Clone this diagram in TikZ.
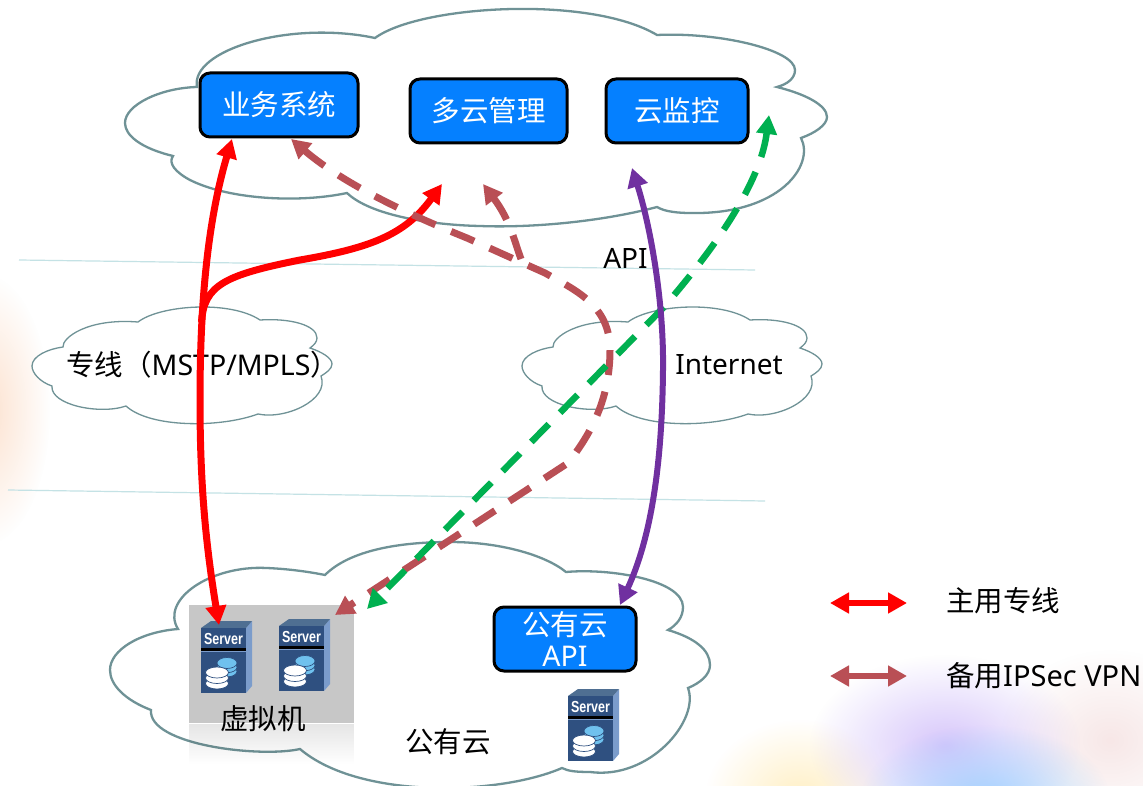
\documentclass[tikz,border=0pt]{standalone}
\usepackage{fontspec}
\setmainfont{Noto Sans}
\newfontfamily\cjk{Noto Sans CJK SC}
\newfontfamily\srvfont{Liberation Sans}[FakeStretch=0.78]
\usetikzlibrary{arrows.meta,fadings}
\definecolor{cloudline}{HTML}{6F9296}
\definecolor{boxblue}{HTML}{0580FF}
\definecolor{brownred}{HTML}{B94F55}
\definecolor{vpngreen}{HTML}{00B050}
\definecolor{apipurple}{HTML}{7030A0}
\definecolor{rule}{HTML}{C4E2E5}
\definecolor{srvfront}{HTML}{2F5080}
\definecolor{srvtop}{HTML}{4F6F92}
\definecolor{srvside}{HTML}{7B9CCB}
\definecolor{disc}{HTML}{6FC1EE}
\definecolor{blobpeach}{RGB}{250,200,165}
\definecolor{blobyellow}{RGB}{255,235,180}
\definecolor{blobpink}{RGB}{245,225,225}
\definecolor{blobviolet}{RGB}{205,185,250}
\definecolor{blobblue}{RGB}{150,205,255}
\tikzfading[name=blobfade, inner color=transparent!0, outer color=transparent!100]
\tikzset{
  cloudshape/.style={draw=cloudline, fill=white, line width=#1, line join=miter},
  cloudshape/.default=2.3pt,
  bluebox/.style={draw=black, fill=boxblue, line width=3pt, rounded corners=10pt, text=white, inner sep=0pt, align=center, font=\fontsize{28.5}{30}\selectfont\cjk},
  lbl/.style={text=black, inner sep=0pt, font=\fontsize{28.5}{32}\selectfont\cjk},
  latlbl/.style={text=black, inner sep=0pt, font=\fontsize{28}{32}\selectfont},
  rulerline/.style={draw=rule, line width=1.2pt},
  tips/.style={{Triangle[length=19pt,width=20pt]}-{Triangle[length=19pt,width=20pt]}},
  tipend/.style={-{Triangle[length=19pt,width=20pt]}},
  redline/.style={draw=red, line width=7pt},
  brownline/.style={draw=brownred, line width=7pt, dash pattern=on 25pt off 17pt},
  greenline/.style={draw=vpngreen, line width=6.5pt, dash pattern=on 25pt off 16pt},
  purpleline/.style={draw=apipurple, line width=6pt},
  blob/.style={path fading=blobfade, fill=#1},
  srvlabel/.style={text=white, inner sep=0pt, font=\fontsize{16}{16}\selectfont\bfseries\srvfont},
  discw/.style={fill=white, draw=srvfront, line width=0.7pt},
  discb/.style={fill=disc, draw=srvfront, line width=0.7pt},
}
\newcommand{\midcloud}{
  (553,347) .. controls (552,338) and (577,318) .. (628,322)
  .. controls (650,305) and (720,300) .. (750,320)
  .. controls (780,318) and (807,325) .. (807,338) .. controls (807,342) and (804,345) .. (800,348)
  .. controls (812,352) and (822,358) .. (822,364) .. controls (822,369) and (816,373) .. (811,376)
  .. controls (820,400) and (775,420) .. (748,414)
  .. controls (710,428) and (640,428) .. (616,406)
  .. controls (590,415) and (540,405) .. (542,386)
  .. controls (530,382) and (522,373) .. (522,366) .. controls (522,356) and (538,349) .. (553,347) -- cycle
}
\newcommand{\srvstack}[5]{% x y radius step style
  \foreach \k in {2,1,0}{
    \draw[#5] (#1,#2+\k*#4) ellipse [x radius=#3, y radius=5.5];
  }
}
\newcommand{\serverbox}[3]{% name x y (front face top-left)
  \begin{scope}[shift={(#2,#3)}]
    \fill[srvside] (45,0) -- (51,-7) -- (51,58) -- (45,65) -- cycle;
    \fill[srvtop] (0,0) -- (10,-7) -- (51,-7) -- (45,0) -- cycle;
    \fill[srvfront] (0,0) rectangle (45,65);
    \fill[black] (0,20) rectangle (45,23);
    \fill[srvside] (0,23) rectangle (45,24);
    \node[srvlabel] (#1) at (22.5,10.5) {Server};
    \srvstack{26}{35}{10}{4.2}{discb}
    \srvstack{16}{44.5}{11.5}{5.5}{discw}
  \end{scope}
}
\begin{document}
\begin{tikzpicture}[x=1pt,y=-1pt]
\useasboundingbox (0,0) rectangle (1143,786);
\clip (0,0) rectangle (1143,786);
% background blobs
\fill[white] (0,0) rectangle (1143,786);
\fill[blob=blobpeach, opacity=.55] (-15,410) ellipse [x radius=65, y radius=135];
\fill[blob=blobyellow, opacity=.8] (800,800) ellipse [x radius=95, y radius=80];
\fill[blob=blobpink, opacity=.8] (1110,740) ellipse [x radius=110, y radius=90];
\fill[blob=blobviolet, opacity=.8] (945,745) ellipse [x radius=135, y radius=90];
\fill[blob=blobblue, opacity=.85] (985,800) ellipse [x radius=125, y radius=75];
% separators
\coordinate (r1a) at (19,260); \coordinate (r1b) at (755,270);
\coordinate (r2a) at (8,490); \coordinate (r2b) at (765,501);
\draw[rulerline] (r1a) -- (r1b);
\draw[rulerline] (r2a) -- (r2b);
% top cloud
\draw[cloudshape] (197,87) .. controls (190,50) and (290,20) .. (375,38)
  .. controls (420,5) and (590,-5) .. (657,35)
  .. controls (720,32) and (795,50) .. (795,70) .. controls (795,78) and (788,84) .. (777,87)
  .. controls (805,94) and (827,105) .. (827,117) .. controls (827,125) and (815,133) .. (801,138)
  .. controls (815,165) and (780,215) .. (690,213) .. controls (680,213) and (665,212) .. (657,207)
  .. controls (600,222) and (530,228) .. (480,226) .. controls (430,225) and (370,215) .. (347,193)
  .. controls (300,203) and (230,200) .. (190,180) .. controls (175,172) and (168,163) .. (173,156)
  .. controls (140,148) and (125,135) .. (125,123) .. controls (125,105) and (160,88) .. (197,87) -- cycle;
% middle clouds
\draw[cloudshape=1.3pt] \midcloud;
\begin{scope}[shift={(-490,0)}]
\draw[cloudshape=1.3pt] \midcloud;
\end{scope}
% bottom cloud
\draw[cloudshape] (178,629) .. controls (160,600) and (210,565) .. (267,568) .. controls (290,569) and (310,572) .. (325,575)
  .. controls (350,550) and (400,542) .. (450,542) .. controls (500,542) and (545,555) .. (566,572)
  .. controls (610,568) and (683,580) .. (683,607) .. controls (683,617) and (677,625) .. (668,630)
  .. controls (695,638) and (710,650) .. (710,665) .. controls (710,675) and (700,683) .. (688,688)
  .. controls (700,720) and (650,780) .. (590,772) .. controls (575,772) and (568,771) .. (562,768)
  .. controls (500,795) and (360,800) .. (300,749)
  .. controls (260,758) and (148,745) .. (151,710)
  .. controls (125,700) and (110,685) .. (110,670) .. controls (110,650) and (140,632) .. (178,629) -- cycle;
% virtual machine panel
\fill[black!22] (189,605) rectangle (354,723);
\fill[black, opacity=.10, path fading=south] (189,724) rectangle (354,764);
% servers
\serverbox{srva}{201}{628}
\serverbox{srvb}{279}{626}
\serverbox{srvc}{568}{696}
% boxes
\node[bluebox, minimum width=158pt, minimum height=64pt] (biz) at (279,105) {\raisebox{-1pt}{业务系统}};
\node[bluebox, minimum width=157pt, minimum height=64pt] (mgr) at (488.5,111) {多云管理};
\node[bluebox, minimum width=142pt, minimum height=64pt] (mon) at (677,111) {云监控};
\node[bluebox, minimum width=142pt, minimum height=64pt] (pub) at (565,639) {\raisebox{2pt}{公有云}\\[-1pt]{\fontspec{Noto Sans}API}};
% labels
\node[lbl, anchor=west] (lined) at (66,365) {专线（{\fontspec{Noto Sans}MSTP/MPLS}）};
\node[latlbl] (inet) at (729,365) {Internet};
\node[latlbl] (api) at (625.5,258) {API};
\node[lbl] (vm) at (263,719) {虚拟机};
\node[lbl] (pubc) at (448,742) {公有云};
\node[lbl, anchor=west] (lega) at (946,601) {主用专线};
\node[lbl, anchor=west] (legb) at (946,676) {备用{\fontspec{Noto Sans}\fontsize{29}{32}\selectfont IPSec VPN}};
% connector ends
\coordinate (bizr) at (232,139);
\coordinate (bizb) at (291,139);
\coordinate (mgrr) at (442,184);
\coordinate (mgrb) at (483,184);
\coordinate (monp) at (632,168);
\coordinate (mong) at (769,115);
\coordinate (srvr) at (219,625);
\coordinate (srvbr) at (335,615);
\coordinate (srvg) at (367,609);
\coordinate (pubp) at (620,605);
\coordinate (trunk) at (201.5,322);
\coordinate (bjoin) at (545,273);
\coordinate (bbranch) at (521,259);
% red
\draw[redline, tips] (bizr) .. controls (205,230) and (200,320) .. (200,400) .. controls (200,480) and (205,540) .. (srvr);
\draw[redline, tipend] (trunk) .. controls (204,285) and (225,275) .. (300,260) .. controls (370,248) and (405,235) .. (mgrr);
% brown dashed
\draw[brownline, tips] (bizb) .. controls (345,185) and (410,215) .. (467,238) -- (bjoin) .. controls (575,290) and (610,305) .. (610,350) .. controls (610,400) and (590,435) .. (568,463) -- (srvbr);
\draw[brownline, tipend] (bbranch) .. controls (514,240) and (510,220) .. (mgrb);
% green dashed
\draw[greenline, tips] (mong) .. controls (762,170) and (735,225) .. (663,308) -- (srvg);
% purple
\draw[purpleline, tips] (monp) .. controls (650,225) and (664,300) .. (663,370) .. controls (662,470) and (650,540) .. (pubp);
% legend
\coordinate (la1) at (830,603); \coordinate (la2) at (907,603);
\coordinate (lb1) at (830,676); \coordinate (lb2) at (907,676);
\draw[draw=red, line width=6pt, tips] (la1) -- (la2);
\draw[draw=brownred, line width=6pt, tips] (lb1) -- (lb2);
\end{tikzpicture}
\end{document}
